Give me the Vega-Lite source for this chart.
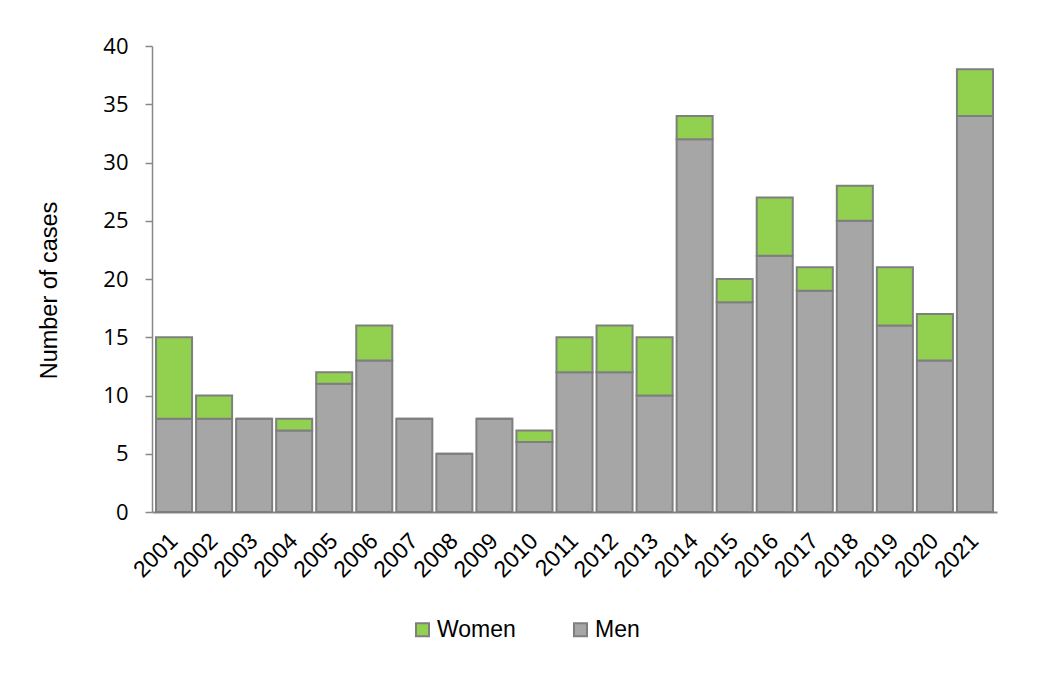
{
  "$schema": "https://vega.github.io/schema/vega-lite/v6.json",
  "width": 845,
  "height": 466,
  "autosize": "none",
  "padding": {"left": 152, "top": 46, "right": 59, "bottom": 163},
  "background": "white",
  "data": {
    "values": [
      {"year": "2001", "sex": "Men", "cases": 8}, {"year": "2001", "sex": "Women", "cases": 7},
      {"year": "2002", "sex": "Men", "cases": 8}, {"year": "2002", "sex": "Women", "cases": 2},
      {"year": "2003", "sex": "Men", "cases": 8}, {"year": "2003", "sex": "Women", "cases": 0},
      {"year": "2004", "sex": "Men", "cases": 7}, {"year": "2004", "sex": "Women", "cases": 1},
      {"year": "2005", "sex": "Men", "cases": 11}, {"year": "2005", "sex": "Women", "cases": 1},
      {"year": "2006", "sex": "Men", "cases": 13}, {"year": "2006", "sex": "Women", "cases": 3},
      {"year": "2007", "sex": "Men", "cases": 8}, {"year": "2007", "sex": "Women", "cases": 0},
      {"year": "2008", "sex": "Men", "cases": 5}, {"year": "2008", "sex": "Women", "cases": 0},
      {"year": "2009", "sex": "Men", "cases": 8}, {"year": "2009", "sex": "Women", "cases": 0},
      {"year": "2010", "sex": "Men", "cases": 6}, {"year": "2010", "sex": "Women", "cases": 1},
      {"year": "2011", "sex": "Men", "cases": 12}, {"year": "2011", "sex": "Women", "cases": 3},
      {"year": "2012", "sex": "Men", "cases": 12}, {"year": "2012", "sex": "Women", "cases": 4},
      {"year": "2013", "sex": "Men", "cases": 10}, {"year": "2013", "sex": "Women", "cases": 5},
      {"year": "2014", "sex": "Men", "cases": 32}, {"year": "2014", "sex": "Women", "cases": 2},
      {"year": "2015", "sex": "Men", "cases": 18}, {"year": "2015", "sex": "Women", "cases": 2},
      {"year": "2016", "sex": "Men", "cases": 22}, {"year": "2016", "sex": "Women", "cases": 5},
      {"year": "2017", "sex": "Men", "cases": 19}, {"year": "2017", "sex": "Women", "cases": 2},
      {"year": "2018", "sex": "Men", "cases": 25}, {"year": "2018", "sex": "Women", "cases": 3},
      {"year": "2019", "sex": "Men", "cases": 16}, {"year": "2019", "sex": "Women", "cases": 5},
      {"year": "2020", "sex": "Men", "cases": 13}, {"year": "2020", "sex": "Women", "cases": 4},
      {"year": "2021", "sex": "Men", "cases": 34}, {"year": "2021", "sex": "Women", "cases": 4}
    ]
  },
  "mark": {"type": "bar", "stroke": "#7f7f7f", "strokeWidth": 2},
  "encoding": {
    "x": {
      "field": "year", "type": "nominal",
      "scale": {"paddingInner": 0.1, "paddingOuter": 0.1},
      "axis": {
        "title": null, "labelAngle": -45, "labelAlign": "right", "labelBaseline": "middle",
        "ticks": false, "labelPadding": 25, "labelFont": "Liberation Sans", "labelFontSize": 23,
        "labelColor": "black", "domainColor": "#888888", "domainWidth": 2, "labelOverlap": false
      }
    },
    "y": {
      "field": "cases", "type": "quantitative", "stack": "zero",
      "scale": {"domain": [0, 40], "nice": false},
      "axis": {
        "title": "Number of cases", "values": [0, 5, 10, 15, 20, 25, 30, 35, 40],
        "grid": false, "tickSize": 7, "tickColor": "#888888", "tickWidth": 1.5,
        "domainColor": "#888888", "domainWidth": 1.5,
        "labelPadding": 17, "labelFont": "Open Sans", "labelFontSize": 22, "labelColor": "black",
        "titleFont": "Liberation Sans", "titleFontSize": 23.5, "titleFontWeight": "normal", "titleColor": "black",
        "titleX": -91, "titleY": 244
      }
    },
    "color": {
      "field": "sex", "type": "nominal",
      "scale": {"domain": ["Women", "Men"], "range": ["#92d050", "#a6a6a6"]},
      "legend": {
        "title": null, "orient": "none", "direction": "horizontal",
        "legendX": 259, "legendY": 572,
        "symbolType": "square", "symbolSize": 170, "symbolStrokeColor": "#7f7f7f", "symbolStrokeWidth": 2,
        "symbolOpacity": 1,
        "labelFont": "Liberation Sans", "labelFontSize": 23, "labelColor": "black",
        "labelOffset": 3, "columnPadding": 53
      }
    },
    "order": {"field": "sex", "sort": "ascending"}
  },
  "config": {"view": {"stroke": null}}
}
